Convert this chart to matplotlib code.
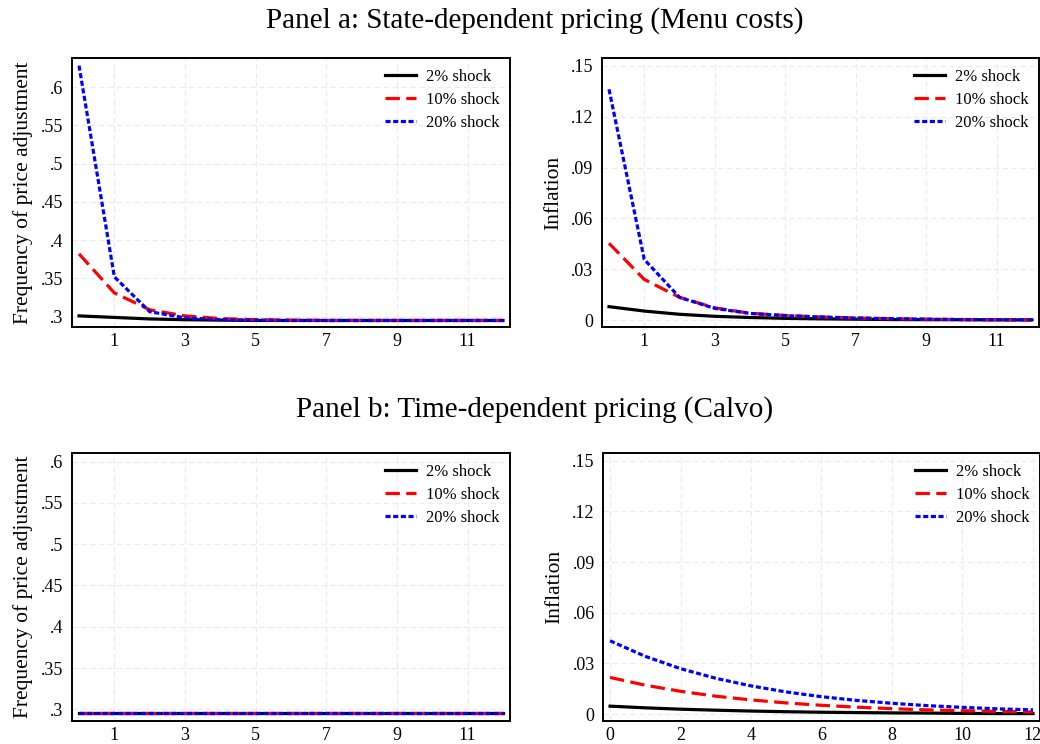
"""Impulse responses to a monetary shock: menu-cost vs Calvo pricing."""
import matplotlib
matplotlib.use("Agg")
import matplotlib.pyplot as plt
from matplotlib.ticker import FixedLocator, FuncFormatter

plt.rcParams["font.family"] = ["Liberation Serif", "DejaVu Serif"]

periods = list(range(13))
shock_labels = ["2% shock", "10% shock", "20% shock"]

# Panel a: state-dependent pricing (menu costs)
freq_menu_2 = [0.301, 0.299, 0.297, 0.296, 0.2955, 0.295, 0.295, 0.295, 0.295, 0.295, 0.295, 0.295, 0.295]
freq_menu_10 = [0.382, 0.331, 0.309, 0.301, 0.2975, 0.296, 0.2955, 0.295, 0.295, 0.295, 0.295, 0.295, 0.295]
freq_menu_20 = [0.628, 0.352, 0.3065, 0.2985, 0.296, 0.2955, 0.295, 0.295, 0.295, 0.295, 0.295, 0.295, 0.295]
infl_menu_2 = [0.0079, 0.0053, 0.0034, 0.0022, 0.0015, 0.0010, 0.0007, 0.0005, 0.0003, 0.0002, 0.0002, 0.0001, 0.0001]
infl_menu_10 = [0.0453, 0.0240, 0.0134, 0.0072, 0.0040, 0.0027, 0.0018, 0.0012, 0.0008, 0.0005, 0.0003, 0.0002, 0.0001]
infl_menu_20 = [0.1362, 0.0358, 0.0134, 0.0069, 0.0039, 0.0026, 0.0018, 0.0012, 0.0008, 0.0005, 0.0003, 0.0002, 0.0001]

# Panel b: time-dependent pricing (Calvo)
freq_calvo_2 = [0.295] * 13
freq_calvo_10 = [0.295] * 13
freq_calvo_20 = [0.295] * 13
infl_calvo_2 = [0.0047, 0.0037, 0.0029, 0.0023, 0.0018, 0.0014, 0.0011, 0.0009, 0.0007, 0.0006, 0.0004, 0.0003, 0.0003]
infl_calvo_10 = [0.0217, 0.0171, 0.0135, 0.0106, 0.0084, 0.0066, 0.0052, 0.0041, 0.0032, 0.0025, 0.0020, 0.0016, 0.0012]
infl_calvo_20 = [0.0434, 0.0342, 0.0269, 0.0212, 0.0167, 0.0131, 0.0103, 0.0081, 0.0064, 0.0050, 0.0040, 0.0031, 0.0025]

freq_ticks = [0.3, 0.35, 0.4, 0.45, 0.5, 0.55, 0.6]
infl_ticks = [0, 0.03, 0.06, 0.09, 0.12, 0.15]
odd_ticks = [1, 3, 5, 7, 9, 11]
even_ticks = [0, 2, 4, 6, 8, 10, 12]

styles = [
    dict(color="black", lw=2.3, ls="-"),
    dict(color="red", lw=2.3, ls=(0, (4.5, 2))),
    dict(color="blue", lw=2.3, ls=(0, (1.6, 0.8))),
]


def stata_fmt(v, _pos):
    if abs(v) < 1e-12:
        return "0"
    s = f"{v:g}"
    return s[1:] if s.startswith("0.") else s


def draw(ax, series, ylabel, yticks, ylim, xticks):
    for ys, lab, st in zip(series, shock_labels, styles):
        ax.plot(periods, ys, label=lab, **st)
    ax.set_xlim(-0.2, 12.2)
    ax.set_ylim(*ylim)
    ax.xaxis.set_major_locator(FixedLocator(xticks))
    ax.yaxis.set_major_locator(FixedLocator(yticks))
    ax.yaxis.set_major_formatter(FuncFormatter(stata_fmt))
    ax.tick_params(labelsize=13, length=0)
    ax.tick_params(axis="y", pad=6)
    ax.tick_params(axis="x", pad=4)
    ax.set_ylabel(ylabel, fontsize=15.5, labelpad=6)
    ax.grid(True, color="#ebebeb", ls=(0, (5, 3)), lw=0.8)
    ax.set_axisbelow(True)
    for sp in ax.spines.values():
        sp.set_linewidth(1.4)
    ax.legend(loc="upper right", frameon=False, fontsize=12, handlelength=1.9,
              labelspacing=0.42, borderaxespad=0.3, handletextpad=0.55,
              borderpad=0.35)


fig = plt.figure(figsize=(10.4, 7.44), dpi=100)
ax_tl = fig.add_axes([0.0692, 0.5605, 0.4212, 0.3616])
ax_tr = fig.add_axes([0.5788, 0.5605, 0.4202, 0.3616])
ax_bl = fig.add_axes([0.0692, 0.0309, 0.4212, 0.3602])
ax_br = fig.add_axes([0.5798, 0.0309, 0.4202, 0.3602])

draw(ax_tl, [freq_menu_2, freq_menu_10, freq_menu_20],
     "Frequency of price adjustment", freq_ticks, (0.2865, 0.638), odd_ticks)
draw(ax_tr, [infl_menu_2, infl_menu_10, infl_menu_20],
     "Inflation", infl_ticks, (-0.0041, 0.1547), odd_ticks)
draw(ax_bl, [freq_calvo_2, freq_calvo_10, freq_calvo_20],
     "Frequency of price adjustment", freq_ticks, (0.2858, 0.6105), odd_ticks)
draw(ax_br, [infl_calvo_2, infl_calvo_10, infl_calvo_20],
     "Inflation", infl_ticks, (-0.0041, 0.1546), even_ticks)

fig.text(0.514, 0.973, "Panel a: State-dependent pricing (Menu costs)",
         ha="center", va="center", fontsize=21)
fig.text(0.514, 0.449, "Panel b: Time-dependent pricing (Calvo)",
         ha="center", va="center", fontsize=21)

fig.savefig("out.png", dpi=100)
